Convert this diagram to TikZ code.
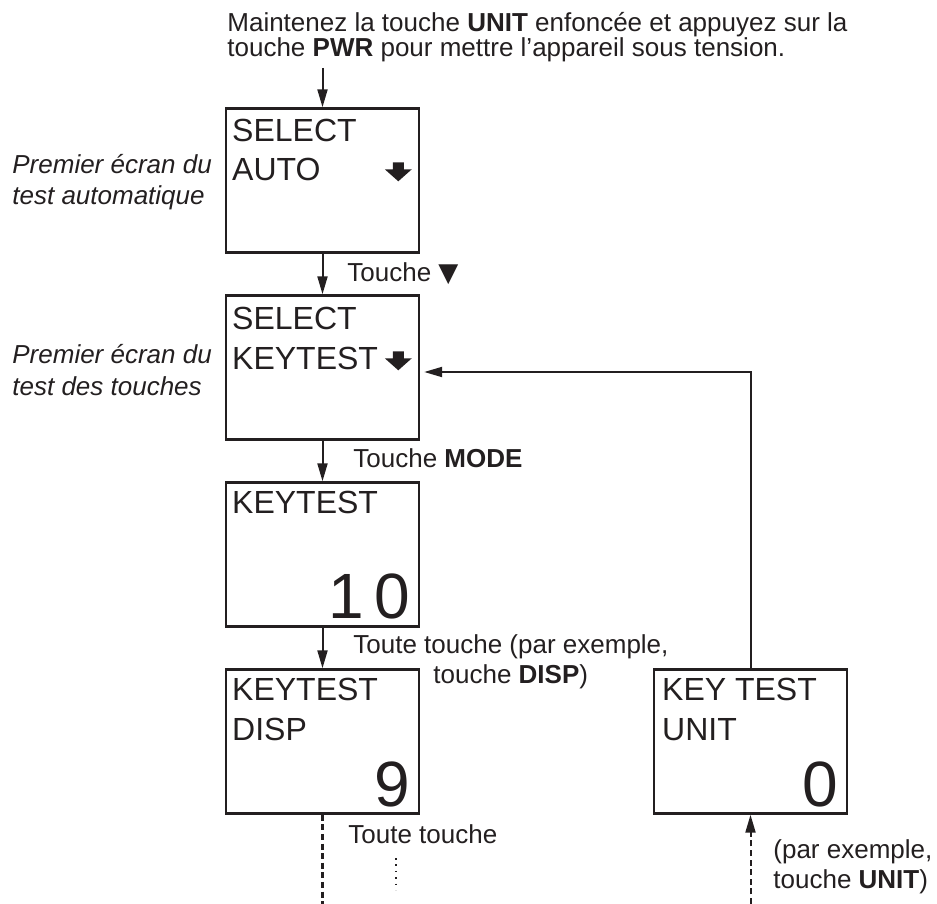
\documentclass[tikz,border=0pt]{standalone}
\usepackage{fontspec}
\setmainfont{Liberation Sans}
\newfontfamily\symfont{DejaVu Sans}
\usetikzlibrary{arrows.meta,positioning,calc}
\definecolor{ink}{RGB}{35,31,32}

\begin{document}
\begin{tikzpicture}[
    x=0.5pt, y=-0.5pt,
    node distance=93.5pt,
    every node/.style={text=ink, inner sep=0pt},
    screen/.style={rectangle, draw=ink, line width=1.2pt, minimum width=96.5pt, minimum height=72pt},
    lcd/.style={font=\fontsize{16}{19.5}\selectfont, anchor=base west},
    count/.style={font=\fontsize{32}{38}\selectfont, anchor=base east},
    caption/.style={font=\fontsize{13}{15}\selectfont, anchor=base west, align=left},
    note/.style={font=\fontsize{13}{16}\selectfont\itshape, anchor=base west, align=left},
    arrow/.style={line width=1pt, draw=ink, -{Triangle[length=9pt,width=5pt]}},
    dashline/.style={line width=1.2pt, draw=ink, dash pattern=on 3pt off 1.8pt}
]

\useasboundingbox (0,0) rectangle (937,904);
\coordinate (bottom) at (0,904);

% Instruction at the top (base = last line)
\node[caption, font=\fontsize{13}{12.75}\selectfont] (power) at (227,57)
    {Maintenez la touche \textbf{UNIT} enfoncée et appuyez sur la\\touche \textbf{PWR} pour mettre l'appareil sous tension.};

% Screens
\node[screen] (auto) at (322.5,180.5) {};
\node[screen, below of=auto] (keymenu) {};
\node[screen, below of=keymenu] (count10) {};
\node[screen, below of=count10] (disp) {};
\node[screen, node distance=214pt, right of=disp] (unit) {};

% Screen contents
\node[lcd] (auto-l1) at ([shift={(7,34)}]auto.north west) {SELECT};
\node[lcd] (auto-l2) at ([shift={(7,73)}]auto.north west) {AUTO};
\fill[ink, shift={(auto.north west)}] (168,55) -- (179,55) -- (179,62) -- (187,62) -- (173.5,74) -- (160,62) -- (168,62) -- cycle;

\node[lcd] (keymenu-l1) at ([shift={(7,35)}]keymenu.north west) {SELECT};
\node[lcd] (keymenu-l2) at ([shift={(7,75)}]keymenu.north west) {KEYTEST};
\fill[ink, shift={(keymenu.north west)}] (168,57) -- (179,57) -- (179,64) -- (187,64) -- (173.5,76) -- (160,64) -- (168,64) -- cycle;

\node[lcd] (count10-l1) at ([shift={(7,32)}]count10.north west) {KEYTEST};
\node[count] (count10-n) at ([shift={(-10,-9)}]count10.south east) {1\kern5pt0};

\node[lcd] (disp-l1) at ([shift={(7,32)}]disp.north west) {KEYTEST};
\node[lcd] (disp-l2) at ([shift={(7,72)}]disp.north west) {DISP};
\node[count] (disp-n) at ([shift={(-10,-8)}]disp.south east) {9};

\node[lcd] (unit-l1) at ([shift={(9,32)}]unit.north west) {KEY TEST};
\node[lcd] (unit-l2) at ([shift={(9,72)}]unit.north west) {UNIT};
\node[count] (unit-n) at ([shift={(-10,-8)}]unit.south east) {0};

% Side notes (base = last line)
\node[note] (auto-note) at (12,205) {Premier écran du\\test automatique};
\node[note] (keymenu-note) at (12,395) {Premier écran du\\test des touches};

% Key labels
\node[caption] (key-down) at (347,281) {Touche {\symfont ▼}};
\node[caption] (key-mode) at (353,467) {Touche \textbf{MODE}};
\node[caption] (key-any) at (353,683) {Toute touche (par exemple,\\\hspace*{40pt}touche \textbf{DISP})};
\node[caption] (key-next) at (348,843) {Toute touche};
\node[caption] (key-unit) at (773,888) {(par exemple,\\touche \textbf{UNIT})};

% Connections
\coordinate (start) at ($(auto.north |- power.south)+(0,5)$);
\draw[arrow] (start) -- (auto);
\draw[arrow] (auto) -- (keymenu);
\draw[arrow] (keymenu) -- (count10);
\draw[arrow] (count10) -- (disp);
\draw[arrow] (unit.north) |- ([shift={(4,4.5)}]keymenu.east);
\draw[dashline] (disp) -- (disp.south |- bottom);
\draw[arrow, dash pattern=on 3pt off 1.8pt] (unit.south |- bottom) -- (unit);
\draw[ink, line width=1pt, dash pattern=on 0.8pt off 2.4pt] (396,858) -- (396,890);

\end{tikzpicture}
\end{document}
